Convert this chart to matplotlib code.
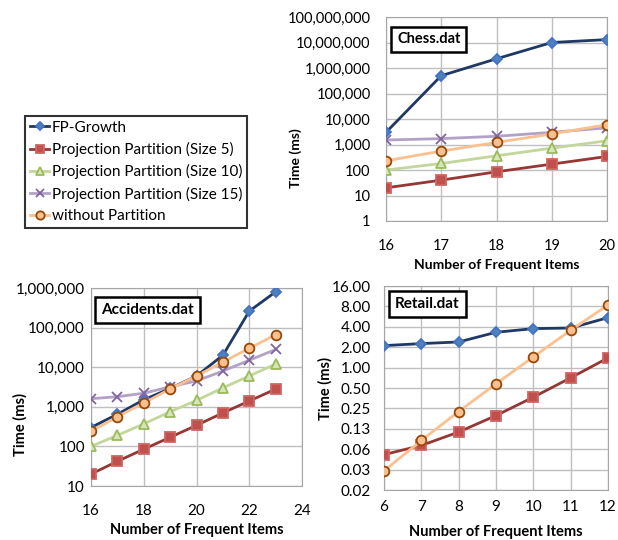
import matplotlib
matplotlib.use("Agg")
import matplotlib.pyplot as plt
from matplotlib.ticker import FixedLocator, FuncFormatter, NullLocator
from matplotlib.lines import Line2D

plt.rcParams['font.family'] = ['Lato', 'DejaVu Sans']

series_names = ["FP-Growth", "Projection Partition (Size 5)", "Projection Partition (Size 10)",
                "Projection Partition (Size 15)", "without Partition"]

chess_x = [16, 17, 18, 19, 20]
chess_fp = [3000, 500000, 2300000, 10000000, 13000000]
chess_p5 = [20, 40, 85, 170, 340]
chess_p10 = [100, 180, 360, 720, 1400]
chess_p15 = [1500, 1700, 2100, 3000, 4500]
chess_nop = [230, 550, 1200, 2600, 6000]

acc_x = [16, 17, 18, 19, 20, 21, 22, 23]
acc_fp = [300, 650, 1500, 2900, 6000, 20000, 260000, 800000]
acc_p5 = [20, 42, 85, 170, 340, 700, 1400, 2800]
acc_p10 = [100, 190, 370, 750, 1450, 3000, 6000, 12000]
acc_p15 = [1600, 1800, 2200, 3200, 4500, 8000, 15000, 28000]
acc_nop = [240, 560, 1250, 2800, 6000, 13500, 30000, 66000]

ret_x = [6, 7, 8, 9, 10, 11, 12]
ret_fp = [2.11, 2.26, 2.39, 3.32, 3.76, 3.84, 5.46]
ret_p5 = [0.052, 0.071, 0.112, 0.196, 0.366, 0.707, 1.39]
ret_nop = [0.030, 0.084, 0.225, 0.575, 1.44, 3.55, 8.4]

# line color, marker, marker face, marker edge, marker size
styles = {
    "FP-Growth": ("#1F3864", "D", "#4F81BD", "#4472C4", 5),
    "Projection Partition (Size 5)": ("#953735", "s", "#C0504D", "#D06460", 7),
    "Projection Partition (Size 10)": ("#C3D69B", "^", "#D7E4BD", "#9BBB59", 7),
    "Projection Partition (Size 15)": ("#B3A2C7", "x", "none", "#8064A2", 7),
    "without Partition": ("#FAC090", "o", "#FAC090", "#984807", 7),
}
grid_col = "#BFBFBF"


def draw(ax, x, name, y):
    lc, m, mf, me, ms = styles[name]
    ax.plot(x, y, color=lc, lw=2, marker=m, markerfacecolor=mf, markeredgecolor=me,
            markersize=ms, markeredgewidth=1.3, zorder=3)


def style_axes(ax, title, ty, fs, xpad, ypad, xl_y, yl_x, yl_y):
    for s in ax.spines.values():
        s.set_color("#A6A6A6")
    ax.grid(True, color=grid_col, lw=1)
    ax.set_axisbelow(True)
    ax.tick_params(length=0, labelsize=fs)
    ax.tick_params(axis="x", pad=xpad)
    ax.tick_params(axis="y", pad=ypad)
    ax.set_xlabel("Number of Frequent Items", fontsize=fs - 0.5, fontweight="bold", va="center")
    ax.set_ylabel("Time (ms)", fontsize=fs - 0.5, fontweight="bold", va="center")
    ax.xaxis.set_label_coords(0.5, xl_y)
    ax.yaxis.set_label_coords(yl_x, yl_y)
    ax.text(0.05, ty, title, transform=ax.transAxes, fontsize=fs, fontweight="bold",
            ha="left", va="center", zorder=5,
            bbox=dict(boxstyle="square,pad=0.4", fc="white", ec="black", lw=1.8))


fig = plt.figure(figsize=(6.18, 5.4), dpi=100)

comma = FuncFormatter(lambda v, p: f"{v:,.0f}")

# Chess
ax1 = fig.add_axes([386 / 618, 1 - 221 / 540, 221 / 618, 204 / 540])
draw(ax1, chess_x, series_names[0], chess_fp)
draw(ax1, chess_x, series_names[1], chess_p5)
draw(ax1, chess_x, series_names[2], chess_p10)
draw(ax1, chess_x, series_names[3], chess_p15)
draw(ax1, chess_x, series_names[4], chess_nop)
ax1.set_yscale("log")
ax1.set_ylim(1, 1e8)
ax1.set_xlim(16, 20)
ax1.set_xticks(chess_x)
ax1.yaxis.set_major_locator(FixedLocator([10 ** i for i in range(9)]))
ax1.yaxis.set_minor_locator(NullLocator())
ax1.yaxis.set_major_formatter(comma)
style_axes(ax1, "Chess.dat", 0.89, 10.5, 13, 11, -0.216, -0.41, 0.31)

# Accidents
ax2 = fig.add_axes([91 / 618, 1 - 486 / 540, 211 / 618, 198 / 540])
draw(ax2, acc_x, series_names[0], acc_fp)
draw(ax2, acc_x, series_names[1], acc_p5)
draw(ax2, acc_x, series_names[2], acc_p10)
draw(ax2, acc_x, series_names[3], acc_p15)
draw(ax2, acc_x, series_names[4], acc_nop)
ax2.set_yscale("log")
ax2.set_ylim(10, 1e6)
ax2.set_xlim(16, 24)
ax2.set_xticks([16, 18, 20, 22, 24])
ax2.yaxis.set_major_locator(FixedLocator([10 ** i for i in range(1, 7)]))
ax2.yaxis.set_minor_locator(NullLocator())
ax2.yaxis.set_major_formatter(comma)
style_axes(ax2, "Accidents.dat", 0.89, 11, 13, 4.3, -0.222, -0.336, 0.31)

# Retail
ax3 = fig.add_axes([384 / 618, 1 - 490 / 540, 224 / 618, 204 / 540])
draw(ax3, ret_x, series_names[0], ret_fp)
draw(ax3, ret_x, series_names[1], ret_p5)
draw(ax3, ret_x, series_names[4], ret_nop)
ax3.set_yscale("log", base=2)
ax3.set_ylim(2 ** -6, 16)
ax3.set_xlim(6, 12)
ax3.set_xticks(ret_x)
ax3.yaxis.set_major_locator(FixedLocator([2.0 ** i for i in range(-6, 5)]))
ax3.yaxis.set_minor_locator(NullLocator())
ax3.yaxis.set_major_formatter(FuncFormatter(lambda v, p: f"{v + 1e-9:.2f}"))
style_axes(ax3, "Retail.dat", 0.91, 11, 7, 9.4, -0.206, -0.264, 0.5)

# legend
handles = []
for n in series_names:
    lc, m, mf, me, ms = styles[n]
    handles.append(Line2D([], [], color=lc, lw=2, marker=m, markerfacecolor=mf,
                          markeredgecolor=me, markersize=ms - 1, markeredgewidth=1.3))
leg = fig.legend(handles, series_names, loc="upper left", bbox_to_anchor=(25 / 618, 1 - 116 / 540),
                 fontsize=11, frameon=True, fancybox=False, handlelength=1.3, handletextpad=0.15,
                 labelspacing=0.48, borderpad=0.3, borderaxespad=0)
leg.get_frame().set_edgecolor("black")
leg.get_frame().set_linewidth(1.5)

fig.savefig("out.png", dpi=100)
